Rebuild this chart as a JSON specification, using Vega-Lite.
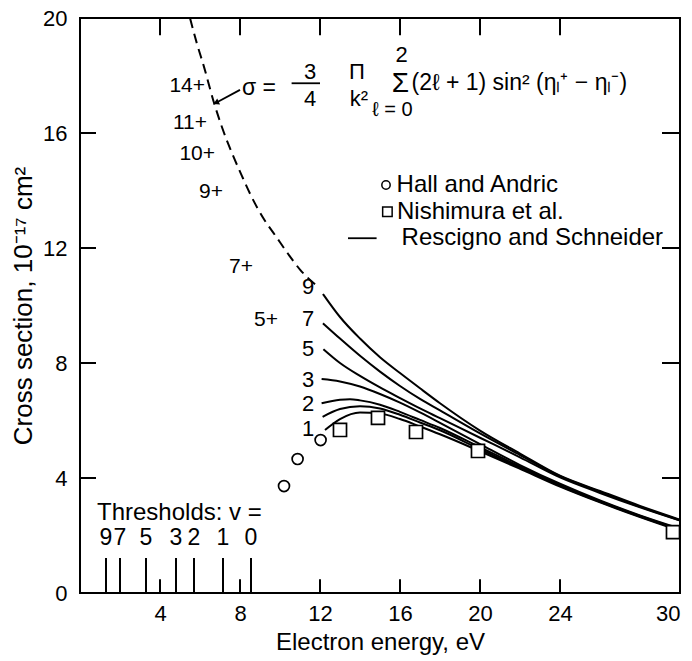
{
  "$schema": "https://vega.github.io/schema/vega-lite/v6.json",
  "width": 600,
  "height": 575,
  "autosize": {"type": "none"},
  "padding": {"left": 80, "top": 18, "right": 12, "bottom": 68},
  "background": "white",
  "config": {
    "view": {"stroke": "black", "strokeWidth": 2},
    "font": "Liberation Sans",
    "text": {"font": "Liberation Sans", "color": "black", "baseline": "middle"}
  },
  "datasets": {
    "curves": [
      {"curve": "9", "x": 12.15, "y": 10.4}, {"curve": "9", "x": 13, "y": 9.6}, {"curve": "9", "x": 14, "y": 8.85}, {"curve": "9", "x": 15, "y": 8.2}, {"curve": "9", "x": 16, "y": 7.65}, {"curve": "9", "x": 17, "y": 7.12}, {"curve": "9", "x": 18, "y": 6.6}, {"curve": "9", "x": 20, "y": 5.65}, {"curve": "9", "x": 22, "y": 4.85}, {"curve": "9", "x": 24, "y": 4.08}, {"curve": "9", "x": 26, "y": 3.55}, {"curve": "9", "x": 28, "y": 3.03}, {"curve": "9", "x": 30, "y": 2.55},
      {"curve": "7", "x": 12.15, "y": 9.38}, {"curve": "7", "x": 13, "y": 8.85}, {"curve": "7", "x": 14, "y": 8.25}, {"curve": "7", "x": 15, "y": 7.7}, {"curve": "7", "x": 16, "y": 7.2}, {"curve": "7", "x": 17, "y": 6.75}, {"curve": "7", "x": 18, "y": 6.35}, {"curve": "7", "x": 20, "y": 5.55}, {"curve": "7", "x": 22, "y": 4.8}, {"curve": "7", "x": 24, "y": 4.06}, {"curve": "7", "x": 26, "y": 3.52}, {"curve": "7", "x": 28, "y": 3.0}, {"curve": "7", "x": 30, "y": 2.53},
      {"curve": "5", "x": 12.17, "y": 8.48}, {"curve": "5", "x": 13, "y": 8.0}, {"curve": "5", "x": 14, "y": 7.55}, {"curve": "5", "x": 15, "y": 7.15}, {"curve": "5", "x": 16, "y": 6.78}, {"curve": "5", "x": 17, "y": 6.42}, {"curve": "5", "x": 18, "y": 6.08}, {"curve": "5", "x": 20, "y": 5.4}, {"curve": "5", "x": 22, "y": 4.72}, {"curve": "5", "x": 24, "y": 4.02}, {"curve": "5", "x": 26, "y": 3.48}, {"curve": "5", "x": 28, "y": 2.98}, {"curve": "5", "x": 30, "y": 2.52},
      {"curve": "3", "x": 12.08, "y": 7.44}, {"curve": "3", "x": 13, "y": 7.36}, {"curve": "3", "x": 14, "y": 7.18}, {"curve": "3", "x": 15, "y": 6.92}, {"curve": "3", "x": 16, "y": 6.62}, {"curve": "3", "x": 17, "y": 6.28}, {"curve": "3", "x": 18, "y": 5.92}, {"curve": "3", "x": 20, "y": 5.18}, {"curve": "3", "x": 22, "y": 4.45}, {"curve": "3", "x": 24, "y": 3.8}, {"curve": "3", "x": 26, "y": 3.22}, {"curve": "3", "x": 28, "y": 2.7}, {"curve": "3", "x": 30, "y": 2.24},
      {"curve": "2", "x": 12.08, "y": 6.6}, {"curve": "2", "x": 13, "y": 6.72}, {"curve": "2", "x": 13.5, "y": 6.74}, {"curve": "2", "x": 14, "y": 6.7}, {"curve": "2", "x": 15, "y": 6.55}, {"curve": "2", "x": 16, "y": 6.3}, {"curve": "2", "x": 17, "y": 6.02}, {"curve": "2", "x": 18, "y": 5.74}, {"curve": "2", "x": 20, "y": 5.07}, {"curve": "2", "x": 22, "y": 4.4}, {"curve": "2", "x": 24, "y": 3.76}, {"curve": "2", "x": 26, "y": 3.19}, {"curve": "2", "x": 28, "y": 2.68}, {"curve": "2", "x": 30, "y": 2.21},
      {"curve": "1", "x": 12.13, "y": 6.13}, {"curve": "1", "x": 13, "y": 6.4}, {"curve": "1", "x": 14, "y": 6.5}, {"curve": "1", "x": 15, "y": 6.42}, {"curve": "1", "x": 16, "y": 6.2}, {"curve": "1", "x": 17, "y": 5.93}, {"curve": "1", "x": 18, "y": 5.66}, {"curve": "1", "x": 20, "y": 5.0}, {"curve": "1", "x": 22, "y": 4.36}, {"curve": "1", "x": 24, "y": 3.73}, {"curve": "1", "x": 26, "y": 3.17}, {"curve": "1", "x": 28, "y": 2.66}, {"curve": "1", "x": 30, "y": 2.19},
      {"curve": "0", "x": 12.25, "y": 5.67}, {"curve": "0", "x": 13, "y": 6.05}, {"curve": "0", "x": 14, "y": 6.28}, {"curve": "0", "x": 15, "y": 6.24}, {"curve": "0", "x": 16, "y": 6.05}, {"curve": "0", "x": 17, "y": 5.79}, {"curve": "0", "x": 18, "y": 5.52}, {"curve": "0", "x": 20, "y": 4.93}, {"curve": "0", "x": 22, "y": 4.32}, {"curve": "0", "x": 24, "y": 3.7}, {"curve": "0", "x": 26, "y": 3.15}, {"curve": "0", "x": 28, "y": 2.64}, {"curve": "0", "x": 30, "y": 2.16}
    ],
    "dashed": [
      {"x": 5.5, "y": 20}, {"x": 5.85, "y": 19.1}, {"x": 6.2, "y": 18.3}, {"x": 6.7, "y": 17.05}, {"x": 7.1, "y": 16.2}, {"x": 7.6, "y": 15.3}, {"x": 8.1, "y": 14.5}, {"x": 8.6, "y": 13.75}, {"x": 9.2, "y": 13.0}, {"x": 9.8, "y": 12.4}, {"x": 10.4, "y": 11.8}, {"x": 11.0, "y": 11.25}, {"x": 11.9, "y": 10.65}
    ],
    "hall": [
      {"x": 10.2, "y": 3.72}, {"x": 10.88, "y": 4.66}, {"x": 12.03, "y": 5.32}
    ],
    "nishimura": [
      {"x": 13.0, "y": 5.67}, {"x": 14.9, "y": 6.09}, {"x": 16.8, "y": 5.6}, {"x": 19.9, "y": 4.94}, {"x": 29.65, "y": 2.12}
    ],
    "thresholds": [
      {"v": "9", "x": 1.3}, {"v": "7", "x": 2.0}, {"v": "5", "x": 3.3}, {"v": "3", "x": 4.8}, {"v": "2", "x": 5.7}, {"v": "1", "x": 7.15}, {"v": "0", "x": 8.55}
    ],
    "gridX": [
      {"tick": "4", "x": 4}, {"tick": "8", "x": 8}, {"tick": "12", "x": 12}, {"tick": "16", "x": 16}, {"tick": "20", "x": 20}, {"tick": "24", "x": 24}
    ],
    "gridY": [
      {"tick": "4", "y": 4}, {"tick": "8", "y": 8}, {"tick": "12", "y": 12}, {"tick": "16", "y": 16}
    ],
    "plusLabels": [
      {"x": 6.25, "y": 17.63, "t": "14+"}, {"x": 6.35, "y": 16.34, "t": "11+"}, {"x": 6.75, "y": 15.27, "t": "10+"}, {"x": 7.15, "y": 13.96, "t": "9+"}, {"x": 8.65, "y": 11.35, "t": "7+"}, {"x": 9.9, "y": 9.5, "t": "5+"}
    ],
    "curveLabels": [
      {"x": 11.4, "y": 10.65, "t": "9"}, {"x": 11.4, "y": 9.52, "t": "7"}, {"x": 11.4, "y": 8.48, "t": "5"}, {"x": 11.4, "y": 7.41, "t": "3"}, {"x": 11.4, "y": 6.57, "t": "2"}, {"x": 11.4, "y": 5.69, "t": "1"}
    ],
    "thresholdTitle": [{"x": 0.85, "y": 2.78, "t": "Thresholds: v ="}],
    "legendTexts": [
      {"x": 15.83, "y": 14.19, "t": "Hall and Andric"},
      {"x": 15.85, "y": 13.26, "t": "Nishimura et al."},
      {"x": 16.08, "y": 12.34, "t": "Rescigno and Schneider"}
    ],
    "formulaLeft": [
      {"x": 8.1, "y": 17.55, "t": "σ ="},
      {"x": 16.58, "y": 17.75, "t": "(2ℓ + 1)  sin²  (ηₗ⁺ − ηₗ⁻)"}
    ],
    "formulaCenter": [
      {"x": 11.5, "y": 18.12, "t": "3"}, {"x": 11.5, "y": 17.18, "t": "4"},
      {"x": 13.85, "y": 18.12, "t": "Π"}, {"x": 13.95, "y": 17.18, "t": "k²"},
      {"x": 16.08, "y": 18.72, "t": "2"}
    ],
    "sigmaSign": [{"x": 16.02, "y": 17.72, "t": "Σ"}],
    "sumIndex": [{"x": 15.62, "y": 16.8, "t": "ℓ = 0"}],
    "segments": [
      {"x": 10.58, "x2": 12.0, "y": 17.73, "y2": 17.73},
      {"x": 13.4, "x2": 14.83, "y": 12.34, "y2": 12.34},
      {"x": 8.0, "x2": 6.85, "y": 17.5, "y2": 17.07}
    ],
    "arrowHead": [{"x": 6.8, "y": 17.05}],
    "legendCircle": [{"x": 15.3, "y": 14.19}],
    "legendSquare": [{"x": 15.37, "y": 13.26}]
  },
  "layer": [
    {"data": {"name": "curves"}, "mark": {"type": "line", "interpolate": "monotone", "color": "black", "strokeWidth": 2},
      "encoding": {
        "x": {"field": "x", "type": "quantitative", "scale": {"domain": [0, 30], "nice": false, "zero": false},
          "axis": {"values": [4, 8, 12, 16, 20, 24, 30], "ticks": false, "domain": false, "grid": false,
            "labelFontSize": 22, "labelColor": "black", "labelPadding": 10, "labelFont": "Liberation Sans",
            "title": "Electron energy, eV", "titleFontSize": 24, "titleFontWeight": "normal", "titleColor": "black", "titleFont": "Liberation Sans", "titlePadding": 6}},
        "y": {"field": "y", "type": "quantitative", "scale": {"domain": [0, 20], "nice": false, "zero": false},
          "axis": {"values": [0, 4, 8, 12, 16, 20], "ticks": false, "domain": false, "grid": false,
            "labelFontSize": 22, "labelColor": "black", "labelPadding": 13, "labelFont": "Liberation Sans",
            "title": "Cross section, 10⁻¹⁷ cm²", "titleFontSize": 26, "titleFontWeight": "normal", "titleColor": "black", "titleFont": "Liberation Sans", "titlePadding": 6}},
        "detail": {"field": "curve"}}},
    {"data": {"name": "dashed"}, "mark": {"type": "line", "interpolate": "monotone", "color": "black", "strokeWidth": 2, "strokeDash": [10, 6]},
      "encoding": {"x": {"field": "x", "type": "quantitative"}, "y": {"field": "y", "type": "quantitative"}}},
    {"data": {"name": "thresholds"}, "mark": {"type": "rule", "color": "black", "strokeWidth": 2},
      "encoding": {"x": {"field": "x", "type": "quantitative"}, "y": {"datum": 0}, "y2": {"datum": 1.22}}},
    {"data": {"name": "thresholds"}, "mark": {"type": "text", "fontSize": 23, "align": "center"},
      "encoding": {"x": {"field": "x", "type": "quantitative"}, "y": {"datum": 1.91}, "text": {"field": "v"}}},
    {"data": {"name": "gridX"}, "mark": {"type": "rule", "color": "black", "strokeWidth": 2},
      "encoding": {"x": {"field": "x", "type": "quantitative"}, "y": {"datum": 0}, "y2": {"datum": 0.48}}},
    {"data": {"name": "gridX"}, "mark": {"type": "rule", "color": "black", "strokeWidth": 2},
      "encoding": {"x": {"field": "x", "type": "quantitative"}, "y": {"datum": 19.4}, "y2": {"datum": 20}}},
    {"data": {"name": "gridY"}, "mark": {"type": "rule", "color": "black", "strokeWidth": 2},
      "encoding": {"y": {"field": "y", "type": "quantitative"}, "x": {"datum": 0}, "x2": {"datum": 0.8}}},
    {"data": {"name": "gridY"}, "mark": {"type": "rule", "color": "black", "strokeWidth": 2},
      "encoding": {"y": {"field": "y", "type": "quantitative"}, "x": {"datum": 29.1}, "x2": {"datum": 30}}},
    {"data": {"name": "segments"}, "mark": {"type": "rule", "color": "black", "strokeWidth": 1.8},
      "encoding": {"x": {"field": "x", "type": "quantitative"}, "y": {"field": "y", "type": "quantitative"}, "x2": {"field": "x2"}, "y2": {"field": "y2"}}},
    {"data": {"name": "arrowHead"}, "mark": {"type": "point", "shape": "triangle-up", "filled": true, "color": "black", "opacity": 1, "size": 45, "angle": 245},
      "encoding": {"x": {"field": "x", "type": "quantitative"}, "y": {"field": "y", "type": "quantitative"}}},
    {"data": {"name": "hall"}, "mark": {"type": "point", "shape": "circle", "filled": true, "fill": "white", "stroke": "black", "opacity": 1, "strokeWidth": 1.7, "size": 120},
      "encoding": {"x": {"field": "x", "type": "quantitative"}, "y": {"field": "y", "type": "quantitative"}}},
    {"data": {"name": "nishimura"}, "mark": {"type": "point", "shape": "square", "filled": true, "fill": "white", "stroke": "black", "opacity": 1, "strokeWidth": 1.7, "size": 170},
      "encoding": {"x": {"field": "x", "type": "quantitative"}, "y": {"field": "y", "type": "quantitative"}}},
    {"data": {"name": "legendCircle"}, "mark": {"type": "point", "shape": "circle", "filled": true, "fill": "white", "stroke": "black", "opacity": 1, "strokeWidth": 1.5, "size": 70},
      "encoding": {"x": {"field": "x", "type": "quantitative"}, "y": {"field": "y", "type": "quantitative"}}},
    {"data": {"name": "legendSquare"}, "mark": {"type": "point", "shape": "square", "filled": true, "fill": "white", "stroke": "black", "opacity": 1, "strokeWidth": 1.5, "size": 90},
      "encoding": {"x": {"field": "x", "type": "quantitative"}, "y": {"field": "y", "type": "quantitative"}}},
    {"data": {"name": "plusLabels"}, "mark": {"type": "text", "fontSize": 21, "align": "right"},
      "encoding": {"x": {"field": "x", "type": "quantitative"}, "y": {"field": "y", "type": "quantitative"}, "text": {"field": "t"}}},
    {"data": {"name": "curveLabels"}, "mark": {"type": "text", "fontSize": 22, "align": "center"},
      "encoding": {"x": {"field": "x", "type": "quantitative"}, "y": {"field": "y", "type": "quantitative"}, "text": {"field": "t"}}},
    {"data": {"name": "thresholdTitle"}, "mark": {"type": "text", "fontSize": 24, "align": "left"},
      "encoding": {"x": {"field": "x", "type": "quantitative"}, "y": {"field": "y", "type": "quantitative"}, "text": {"field": "t"}}},
    {"data": {"name": "legendTexts"}, "mark": {"type": "text", "fontSize": 24, "align": "left"},
      "encoding": {"x": {"field": "x", "type": "quantitative"}, "y": {"field": "y", "type": "quantitative"}, "text": {"field": "t"}}},
    {"data": {"name": "formulaLeft"}, "mark": {"type": "text", "fontSize": 23, "align": "left"},
      "encoding": {"x": {"field": "x", "type": "quantitative"}, "y": {"field": "y", "type": "quantitative"}, "text": {"field": "t"}}},
    {"data": {"name": "formulaCenter"}, "mark": {"type": "text", "fontSize": 22, "align": "center"},
      "encoding": {"x": {"field": "x", "type": "quantitative"}, "y": {"field": "y", "type": "quantitative"}, "text": {"field": "t"}}},
    {"data": {"name": "sigmaSign"}, "mark": {"type": "text", "fontSize": 28, "align": "center"},
      "encoding": {"x": {"field": "x", "type": "quantitative"}, "y": {"field": "y", "type": "quantitative"}, "text": {"field": "t"}}},
    {"data": {"name": "sumIndex"}, "mark": {"type": "text", "fontSize": 20, "align": "center"},
      "encoding": {"x": {"field": "x", "type": "quantitative"}, "y": {"field": "y", "type": "quantitative"}, "text": {"field": "t"}}}
  ]
}
